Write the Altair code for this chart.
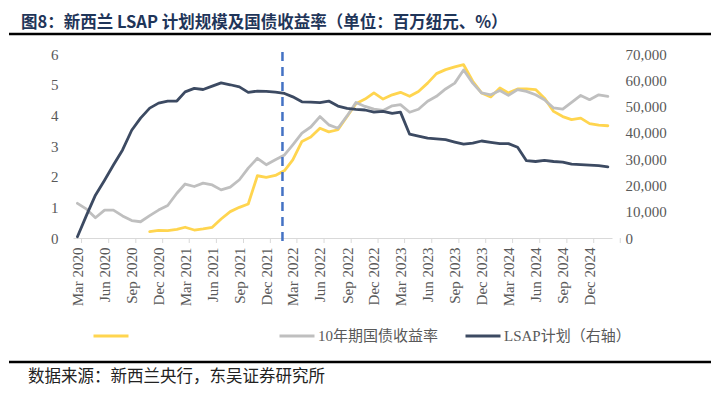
import altair as alt
import pandas as pd

# ---- data ----
months = pd.date_range("2020-03-01", periods=60, freq="MS")

lsap = [500, 8700, 16300, 22000, 27800, 33500, 41000, 45600, 49400, 51300,
        52100, 52100, 55600, 56900, 56500, 57800, 59000, 58300, 57500, 55400,
        55900, 55800, 55500, 55000, 53700, 51800, 51700, 51500, 52100, 50200,
        49300, 48900, 48700, 47900, 48200, 47400, 47900, 39500, 38800, 38000,
        37700, 37400, 36500, 35700, 36100, 36900, 36400, 35900, 35900, 34500,
        29400, 29100, 29500, 29100, 28900, 28100, 27900, 27700, 27500, 27100]

y10 = [1.13, 0.94, 0.66, 0.91, 0.91, 0.72, 0.57, 0.53, 0.73, 0.91,
       1.06, 1.46, 1.76, 1.68, 1.79, 1.73, 1.57, 1.66, 1.90, 2.28,
       2.60, 2.39, 2.55, 2.71, 3.04, 3.42, 3.62, 3.96, 3.69, 3.58,
       3.98, 4.42, 4.29, 4.20, 4.16, 4.31, 4.35, 4.10, 4.20, 4.46,
       4.62, 4.86, 5.05, 5.48, 5.05, 4.73, 4.67, 4.81, 4.65, 4.84,
       4.78, 4.67, 4.51, 4.24, 4.20, 4.42, 4.65, 4.51, 4.67, 4.62]

y2 = [None] * 8 + [
       0.21, 0.25,
       0.24, 0.28, 0.35, 0.26, 0.30, 0.35, 0.62, 0.86, 1.00, 1.11,
       2.03, 1.98, 2.04, 2.20, 2.55, 3.15, 3.29, 3.58, 3.46, 3.53,
       3.96, 4.38, 4.53, 4.73, 4.53, 4.67, 4.75, 4.62, 4.78, 5.05,
       5.36, 5.49, 5.58, 5.65, 5.11, 4.73, 4.60, 4.89, 4.73, 4.86,
       4.86, 4.84, 4.56, 4.13, 3.96, 3.86, 3.91, 3.73, 3.68, 3.66]

series_names = ["2年期国债收益率", "10年期国债收益率", "LSAP计划（右轴）"]
series_colors = ["#FFD54F", "#BFBFBF", "#3C4A62"]
marker_date = "2022-01-25T00:00:00"

title_text = "图8：新西兰 LSAP 计划规模及国债收益率（单位：百万纽元、%）"
source_text = "数据来源：新西兰央行，东吴证券研究所"

# ---- tables ----
df = pd.DataFrame({"date": months, "lsap": lsap, "y10": y10, "y2": y2})
df_y2 = df.dropna(subset=["y2"]).assign(series=series_names[0])
df_y10 = df.assign(series=series_names[1])
df_lsap = df.assign(series=series_names[2])

tick_dates = pd.date_range("2020-02-15", periods=21, freq="3MS") + pd.Timedelta(days=14)
df_ticks = pd.DataFrame({"date": tick_dates})
df_marker = pd.DataFrame({"date": [marker_date]})

W, H = 539, 184
SERIF = "Liberation Serif, Noto Sans CJK SC"
CJK = "Noto Sans CJK SC"
LABEL_COLOR = "#595959"
AXIS_GREY = "#D9D9D9"

x_scale = alt.Scale(domain=[alt.DateTime(year=2020, month=2, date=15),
                            alt.DateTime(year=2025, month=2, date=15)])
label_dates = [alt.DateTime(year=y, month=m, date=1)
               for y in range(2020, 2025) for m in (3, 6, 9, 12)]

x_axis = alt.Axis(values=label_dates, format="%b %Y", labelAngle=-90,
                  labelFont=SERIF, labelFontSize=15, labelColor=LABEL_COLOR,
                  ticks=False, domain=True, domainColor=AXIS_GREY, domainWidth=1,
                  grid=False, title=None, labelPadding=9, labelOverlap=False)
X = alt.X("date:T", scale=x_scale, axis=x_axis)

color_scale = alt.Scale(domain=series_names, range=series_colors)
legend = alt.Legend(orient="none", legendX=19, legendY=263, direction="horizontal",
                    title=None, symbolType="stroke", symbolStrokeWidth=3,
                    symbolSize=1225, labelFont=SERIF, labelFontSize=15,
                    labelColor=LABEL_COLOR, gridAlign="all", columnPadding=14,
                    labelOffset=2, labelLimit=300,
                    labelExpr=f"datum.label == '{series_names[0]}' ? '' : datum.label")
C = alt.Color("series:N", scale=color_scale, legend=legend)

left_scale = alt.Scale(domain=[0, 6])
left_axis = alt.Axis(values=[0, 1, 2, 3, 4, 5, 6], labelFont=SERIF,
                     labelFontSize=15, labelColor=LABEL_COLOR, ticks=False,
                     domain=False, grid=False, title=None, labelPadding=15)
right_axis = alt.Axis(orient="right", values=list(range(0, 70001, 10000)),
                      format=",.0f", labelFont=SERIF, labelFontSize=15,
                      labelColor=LABEL_COLOR, ticks=False, domain=False,
                      grid=False, title=None, labelPadding=13)

line_kw = dict(strokeWidth=2.8, strokeJoin="round", strokeCap="round")

yellow = alt.Chart(df_y2).mark_line(**line_kw).encode(
    x=X, y=alt.Y("y2:Q", scale=left_scale, axis=left_axis), color=C)
grey = alt.Chart(df_y10).mark_line(**line_kw).encode(
    x=X, y=alt.Y("y10:Q", scale=left_scale, axis=None), color=C)
navy = alt.Chart(df_lsap).mark_line(**line_kw).encode(
    x=X, y=alt.Y("lsap:Q", scale=alt.Scale(domain=[0, 70000]), axis=right_axis),
    color=C)

ticks = alt.Chart(df_ticks).mark_rule(color=AXIS_GREY, strokeWidth=1).encode(
    x=X, y=alt.value(H), y2=alt.value(H + 5))

vline = alt.Chart(df_marker).mark_rule(
    color="#4472C4", strokeWidth=2.5, strokeDash=[9, 6]
).encode(x=X, y=alt.value(-2), y2=alt.value(H + 9))

one = alt.Data(values=[{"k": 1}])
title = alt.Chart(one).mark_text(
    text=title_text, font=CJK, fontSize=16.5, fontWeight="bold", color="#1F3559",
    align="left", baseline="middle"
).encode(x=alt.value(-52), y=alt.value(-31))
top_rule = alt.Chart(one).mark_rule(color="#000000", strokeWidth=2.5).encode(
    x=alt.value(-64), x2=alt.value(638), y=alt.value(-20))
bottom_rule = alt.Chart(one).mark_rule(color="#000000", strokeWidth=2.5).encode(
    x=alt.value(-64), x2=alt.value(638), y=alt.value(308))
source = alt.Chart(one).mark_text(
    text=source_text, font=CJK, fontSize=16.5, color="#222222",
    align="left", baseline="middle"
).encode(x=alt.value(-45), y=alt.value(323))

chart = alt.layer(
    yellow, grey, navy, ticks, vline, title, top_rule, bottom_rule, source
).resolve_scale(
    y="independent"
).properties(
    width=W, height=H,
    autosize=alt.AutoSizeParams(type="none"),
    padding={"left": 65, "top": 46, "right": 99, "bottom": 149},
    background="white",
).configure_view(stroke=None)

chart.save("out.html", embed_options={"renderer": "svg", "actions": False})
